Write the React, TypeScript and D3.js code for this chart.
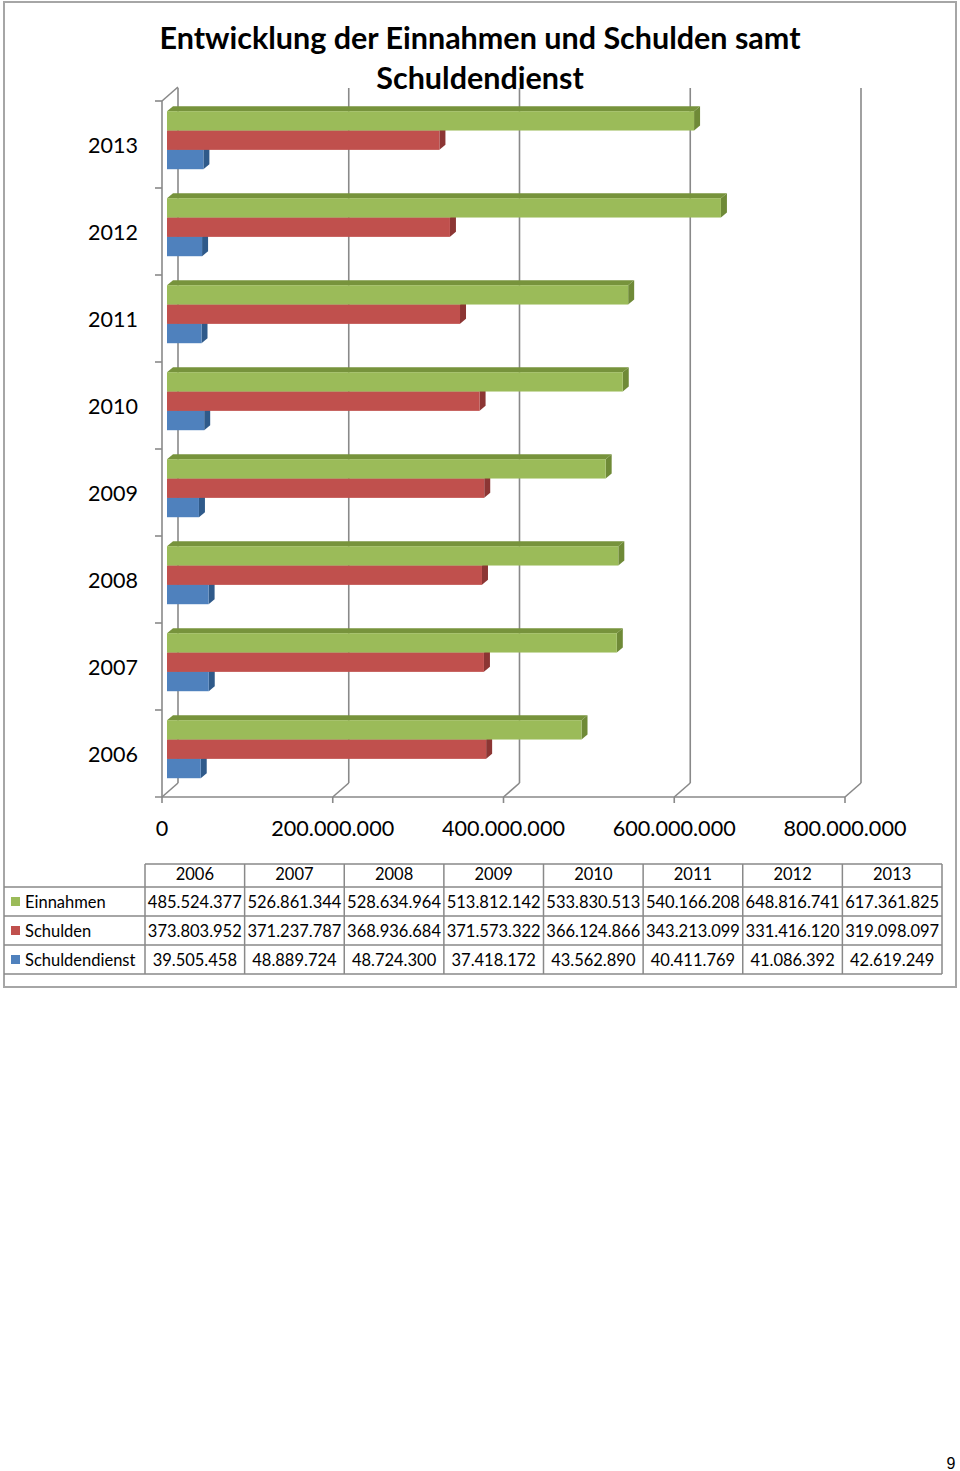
import React from "react";
import * as d3 from "d3";

const years = ["2006", "2007", "2008", "2009", "2010", "2011", "2012", "2013"];
const seriesNames = ["Einnahmen", "Schulden", "Schuldendienst"];
const einnahmen = [485524377, 526861344, 528634964, 513812142, 533830513, 540166208, 648816741, 617361825];
const schulden = [373803952, 371237787, 368936684, 371573322, 366124866, 343213099, 331416120, 319098097];
const schuldendienst = [39505458, 48889724, 48724300, 37418172, 43562890, 40411769, 41086392, 42619249];
const axisTicks = [0, 200000000, 400000000, 600000000, 800000000];

const seriesValues = [einnahmen, schulden, schuldendienst];
const colors = [
  { front: "#9BBB59", top: "#77933C", side: "#6F8A37" },
  { front: "#C0504D", top: "#9A3C3A", side: "#8C3634" },
  { front: "#4F81BD", top: "#3A6598", side: "#2F5A8A" },
];

const de = d3.formatLocale({ decimal: ",", thousands: ".", grouping: [3], currency: ["", " €"] });
const fmt = de.format(",.0f");

const FONT = "Lato, 'Open Sans', sans-serif";
const GRID = "#898989";

const App = () => {
  const width = 960;
  const height = 1471;

  // 3d frame
  const depth = { dx: 16, dy: -14 };
  const barShift = { dx: 5, dy: -4.3 };
  const barThick = { dx: 6, dy: -5 };
  const floorY = 797;
  const wallTop = 101;
  const backTop = 88;

  const x = d3.scaleLinear().domain([0, 800000000]).range([162, 845]);
  const y = d3.scaleBand().domain(years.slice().reverse()).range([wallTop, floorY]);
  const yBars = d3.scaleBand().domain(years.slice().reverse()).range([wallTop, floorY])
    .paddingInner(0.333).paddingOuter(0.1665);
  const ySeries = d3.scaleBand().domain(seriesNames).range([0, yBars.bandwidth()]);

  // table
  const col = d3.scaleBand().domain(years).range([145, 942]);
  const rowTops = [864, 887, 916, 945, 974];

  const bars: React.ReactNode[] = [];
  years.forEach((yr, i) => {
    // draw bottom series first so upper bars cover hidden faces
    [2, 1, 0].forEach(s => {
      const v = seriesValues[s][i];
      const x0 = x(0) + barShift.dx;
      const x1 = x(v) + barShift.dx;
      const y0 = (yBars(yr) as number) + (ySeries(seriesNames[s]) as number) + barShift.dy;
      const h = ySeries.bandwidth();
      const c = colors[s];
      bars.push(
        <g key={`${yr}-${s}`}>
          <polygon
            points={`${x0},${y0} ${x0 + barThick.dx},${y0 + barThick.dy} ${x1 + barThick.dx},${y0 + barThick.dy} ${x1},${y0}`}
            fill={c.top}
          />
          <polygon
            points={`${x1},${y0} ${x1 + barThick.dx},${y0 + barThick.dy} ${x1 + barThick.dx},${y0 + h + barThick.dy} ${x1},${y0 + h}`}
            fill={c.side}
          />
          <rect x={x0} y={y0} width={x1 - x0} height={h} fill={c.front} />
        </g>
      );
    });
  });

  return (
    <svg width={width} height={height} style={{ position: "absolute", left: 0, top: 0, background: "#fff" }}>
      {/* outer frame */}
      <rect x={4} y={2} width={952} height={985} fill="none" stroke="#a6a6a6" strokeWidth={2} />

      {/* title */}
      <text x={480} y={49} textAnchor="middle" fontFamily={FONT} fontWeight="bold" fontSize={30.5} fill="#000">
        Entwicklung der Einnahmen und Schulden samt
      </text>
      <text x={480} y={89} textAnchor="middle" fontFamily={FONT} fontWeight="bold" fontSize={30.5} fill="#000">
        Schuldendienst
      </text>

      {/* back gridlines and floor diagonals */}
      {axisTicks.map(t => (
        <g key={`g${t}`} stroke={GRID} strokeWidth={1.6} fill="none">
          <line x1={x(t) + depth.dx} x2={x(t) + depth.dx} y1={backTop} y2={floorY + depth.dy} />
          <line x1={x(t)} y1={floorY} x2={x(t) + depth.dx} y2={floorY + depth.dy} />
          <line x1={x(t)} x2={x(t)} y1={floorY} y2={floorY + 6} />
        </g>
      ))}
      {/* left wall */}
      <g stroke={GRID} strokeWidth={1.6} fill="none">
        <line x1={x(0)} x2={x(0)} y1={wallTop} y2={floorY} />
        <line x1={x(0)} y1={wallTop} x2={x(0) + depth.dx} y2={wallTop + depth.dy} />
        <line x1={x(0) - 7} x2={x(800000000)} y1={floorY} y2={floorY} />
        {years.map(yr => (
          <line key={`t${yr}`} x1={x(0) - 7} x2={x(0)} y1={y(yr) as number} y2={y(yr) as number} />
        ))}
      </g>

      {/* bars */}
      {bars}

      {/* category labels */}
      {years.map(yr => (
        <text key={`l${yr}`} x={138} y={(y(yr) as number) + y.bandwidth() / 2 + 8} textAnchor="end"
          fontFamily={FONT} fontSize={21.5} fill="#000">{yr}</text>
      ))}
      {/* value axis labels */}
      {axisTicks.map(t => (
        <text key={`a${t}`} x={x(t)} y={836} textAnchor="middle" fontFamily={FONT} fontSize={21.6} fill="#000">
          {fmt(t)}
        </text>
      ))}

      {/* data table */}
      <g stroke={GRID} strokeWidth={1.5} fill="none">
        <line x1={145} x2={942} y1={rowTops[0]} y2={rowTops[0]} />
        {rowTops.slice(1).map(r => (
          <line key={`r${r}`} x1={4} x2={942} y1={r} y2={r} />
        ))}
        {years.map(yr => (
          <line key={`c${yr}`} x1={col(yr) as number} x2={col(yr) as number} y1={rowTops[0]} y2={rowTops[4]} />
        ))}
        <line x1={942} x2={942} y1={rowTops[0]} y2={rowTops[4]} />
      </g>
      {years.map(yr => (
        <text key={`h${yr}`} x={(col(yr) as number) + col.bandwidth() / 2} y={880} textAnchor="middle"
          fontFamily={FONT} fontSize={16.5} fill="#000">{yr}</text>
      ))}
      {seriesNames.map((name, s) => {
        const top = rowTops[s + 1];
        const mid = (top + rowTops[s + 2]) / 2;
        return (
          <g key={`row${name}`}>
            <rect x={11} y={mid - 4.5} width={9} height={9} fill={colors[s].front} />
            <text x={25} y={mid + 6} fontFamily={FONT} fontSize={16.5} fill="#000">{name}</text>
            {years.map((yr, i) => (
              <text key={`v${yr}`} x={(col(yr) as number) + col.bandwidth() / 2} y={mid + 6} textAnchor="middle"
                fontFamily={FONT} fontSize={16.5} fill="#000">{fmt(seriesValues[s][i])}</text>
            ))}
          </g>
        );
      })}

      {/* page number */}
      <text x={951} y={1469} textAnchor="middle" fontFamily="'Liberation Sans', Arial, sans-serif" fontSize={16} fill="#000">9</text>
    </svg>
  );
};

export default App;
